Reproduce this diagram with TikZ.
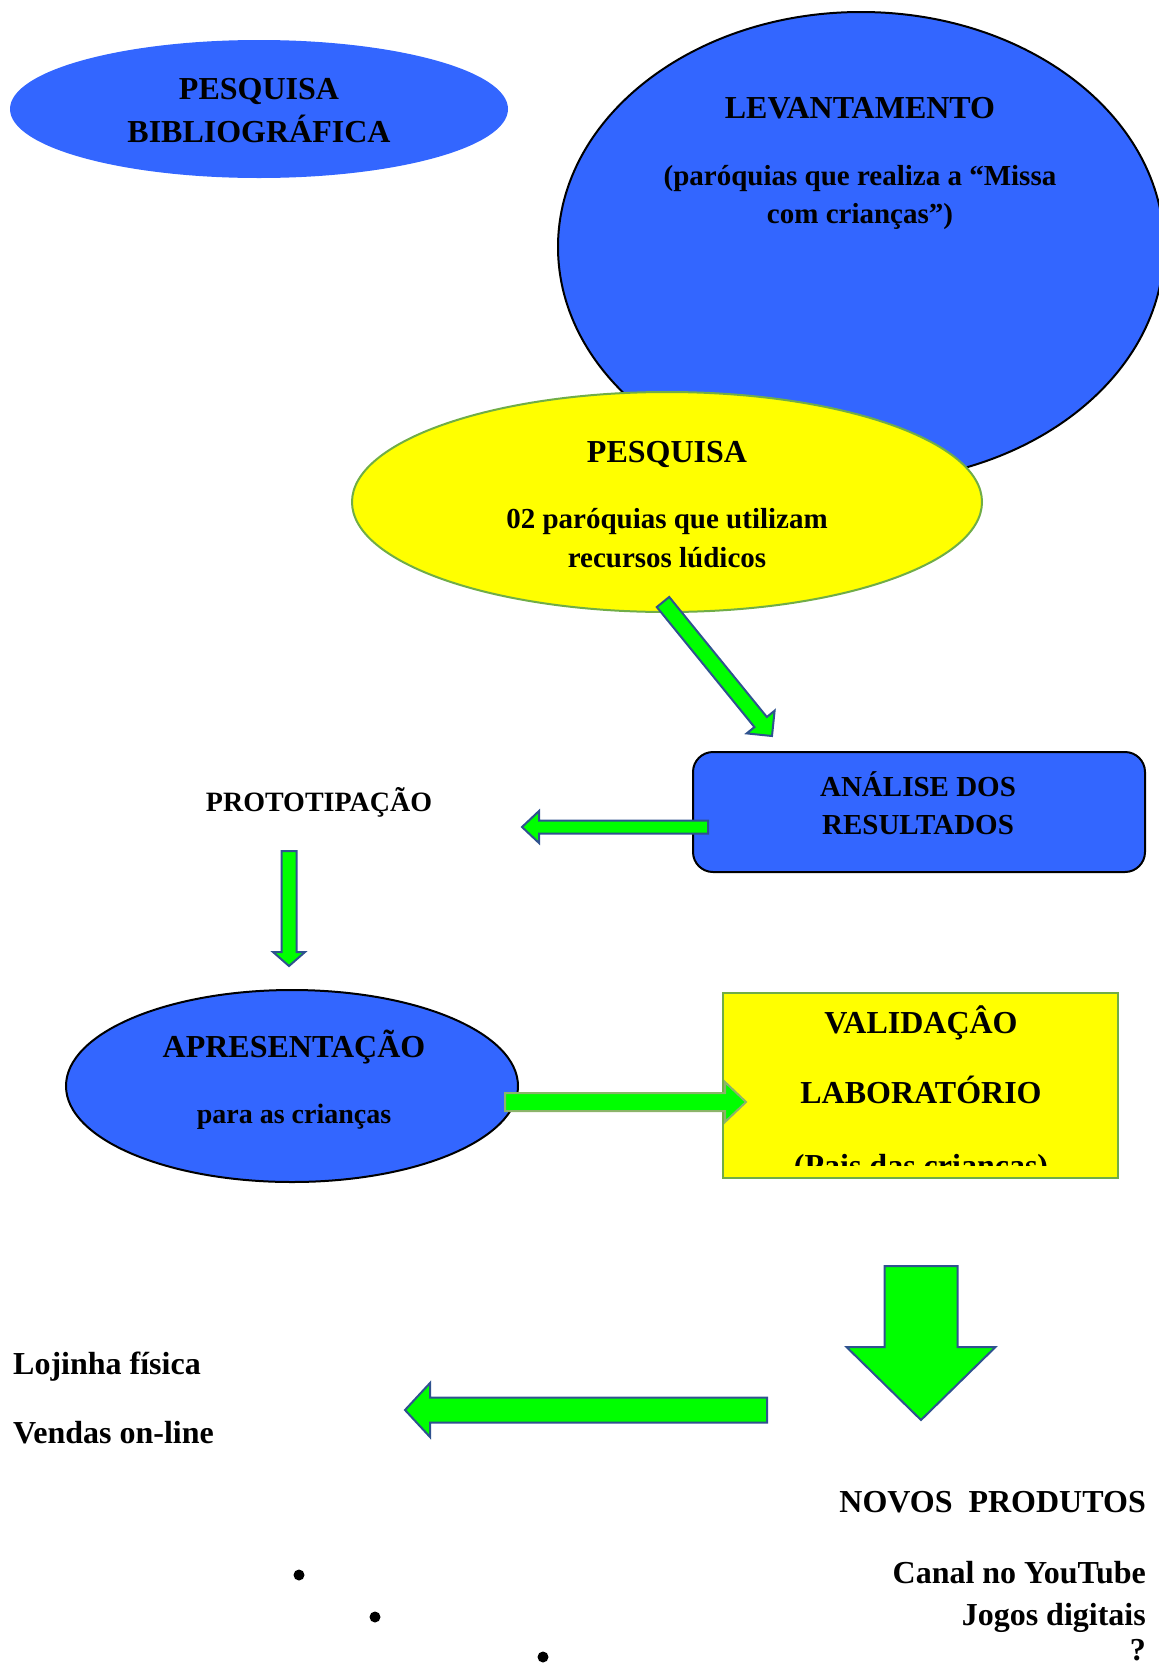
\documentclass[tikz,border=0pt]{standalone}
\usepackage{fontspec}
\setmainfont{Liberation Serif}
\usepackage{tikz}
\usetikzlibrary{positioning,shapes.geometric,calc}

\definecolor{boxblue}{HTML}{3366FF}
\definecolor{boxyellow}{HTML}{FFFF00}
\definecolor{arrowgreen}{HTML}{00FF00}
\definecolor{arrowedge}{HTML}{2F528F}
\definecolor{leafedge}{HTML}{70AD47}
\definecolor{paleedge}{HTML}{8CB46A}

% block arrow: style, tail, tip, half shaft, half head, head length
\newcommand{\blockarrow}[6]{%
  \coordinate (ba-h) at ($(#3)!#6!(#2)$);
  \draw[#1] ($(#2)!#4!90:(#3)$) -- ($(ba-h)!#4!-90:(#2)$) -- ($(ba-h)!#5!-90:(#2)$)
    -- (#3) -- ($(ba-h)!#5!90:(#2)$) -- ($(ba-h)!#4!90:(#2)$) -- ($(#2)!#4!-90:(#3)$) -- cycle;
}

\begin{document}
\begin{tikzpicture}[
    x=1pt, y=-1pt,
    ttl/.style={font=\fontsize{32}{38}\selectfont\bfseries, inner sep=0, anchor=base},
    sub/.style={font=\fontsize{29}{36}\selectfont\bfseries, inner sep=0, anchor=base},
    small/.style={font=\fontsize{28}{34}\selectfont\bfseries, inner sep=0, anchor=base},
    blueshape/.style={fill=boxblue, draw=black, line width=2pt},
    yellowshape/.style={fill=boxyellow, draw=leafedge, line width=2pt},
    greenarrow/.style={fill=arrowgreen, draw=arrowedge, line width=2pt, line join=miter},
    palearrow/.style={fill=arrowgreen, draw=paleedge, line width=2pt, line join=miter},
    bulletdot/.style={circle, fill=black, inner sep=0, minimum size=11pt}
]
    \useasboundingbox (0,0) rectangle (1159,1668);

    % Top row
    \node[ellipse, fill=boxblue, minimum width=498pt, minimum height=138pt] (biblio) at (259,109) {};
    \node[ttl] (bibl1) at (259,99) {PESQUISA};
    \node[ttl] (bibl2) at (259,142) {BIBLIOGRÁFICA};

    \node[ellipse, blueshape, minimum width=606pt, minimum height=470pt] (levant) at (861,247) {};
    \node[ttl] (lev1) at (860,118) {LEVANTAMENTO};
    \node[sub] (lev2) at (860,185) {(paróquias que realiza a “Missa};
    \node[sub] (lev3) at (860,223) {com crianças”)};

    \node[ellipse, yellowshape, minimum width=630pt, minimum height=220pt] (pesq) at (667,502) {};
    \node[ttl] (pesq1) at (667,462) {PESQUISA};
    \node[sub] (pesq2) at (667,528) {02 paróquias que utilizam};
    \node[sub] (pesq3) at (667,567) {recursos lúdicos};

    % Analysis and prototype
    \coordinate (diagtail) at (663,602);
    \coordinate (diagtip) at (772,736);
    \blockarrow{greenarrow}{diagtail}{diagtip}{8pt}{18pt}{18pt}

    \draw[blueshape, rounded corners=20pt] (693,752) rectangle (1145,872);
    \coordinate (analise) at (919,812);
    \node[sub] (anal1) at (918,796) {ANÁLISE DOS};
    \node[sub] (anal2) at (918,834) {RESULTADOS};

    \coordinate (lefttail) at (708,827);
    \coordinate (lefttip) at (522,827);
    \blockarrow{greenarrow}{lefttail}{lefttip}{6.5pt}{16pt}{17pt}

    \node[small] (proto) at (319,811) {PROTOTIPAÇÃO};

    \coordinate (downtail) at (289,851);
    \coordinate (downtip) at (289,966);
    \blockarrow{greenarrow}{downtail}{downtip}{7.5pt}{16pt}{14pt}

    % Presentation and validation
    \node[ellipse, blueshape, minimum width=452pt, minimum height=192pt] (apres) at (292,1086) {};
    \node[ttl] (apres1) at (294,1057) {APRESENTAÇÃO};
    \node[small] (apres2) at (294,1123) {para as crianças};

    \draw[yellowshape] (723,993) rectangle (1118,1178);
    \node[ttl] (valid1) at (921,1033) {VALIDAÇÂO};
    \node[ttl] (valid2) at (921,1103) {LABORATÓRIO};
    \begin{scope}
        \clip (723,993) rectangle (1118,1165);
        \node[ttl] (valid3) at (921,1176) {(Pais das crianças)};
    \end{scope}

    \coordinate (righttail) at (505,1102);
    \coordinate (righttip) at (746,1102);
    \blockarrow{palearrow}{righttail}{righttip}{9pt}{20pt}{21pt}

    % Products
    \coordinate (bigtail) at (921,1266);
    \coordinate (bigtip) at (921,1420);
    \blockarrow{greenarrow}{bigtail}{bigtip}{36.5pt}{74.5pt}{73pt}

    \coordinate (shoptail) at (767,1410);
    \coordinate (shoptip) at (405,1410);
    \blockarrow{greenarrow}{shoptail}{shoptip}{12.5pt}{27pt}{25pt}

    \node[ttl, anchor=base west] (loja) at (13,1374) {Lojinha física};
    \node[ttl, anchor=base west] (vendas) at (13,1443) {Vendas on-line};

    \node[ttl, anchor=base east] (novos) at (1146,1512) {NOVOS\ \ PRODUTOS};
    \node[ttl, anchor=base east] (canal) at (1146,1583) {Canal no YouTube};
    \node[ttl, anchor=base east] (jogos) at (1146,1625) {Jogos digitais};
    \node[ttl, anchor=base east] (quest) at (1146,1660) {?};

    \node[bulletdot] (dot1) at (299,1575) {};
    \node[bulletdot] (dot2) at (375,1617) {};
    \node[bulletdot] (dot3) at (543,1657) {};
\end{tikzpicture}
\end{document}
